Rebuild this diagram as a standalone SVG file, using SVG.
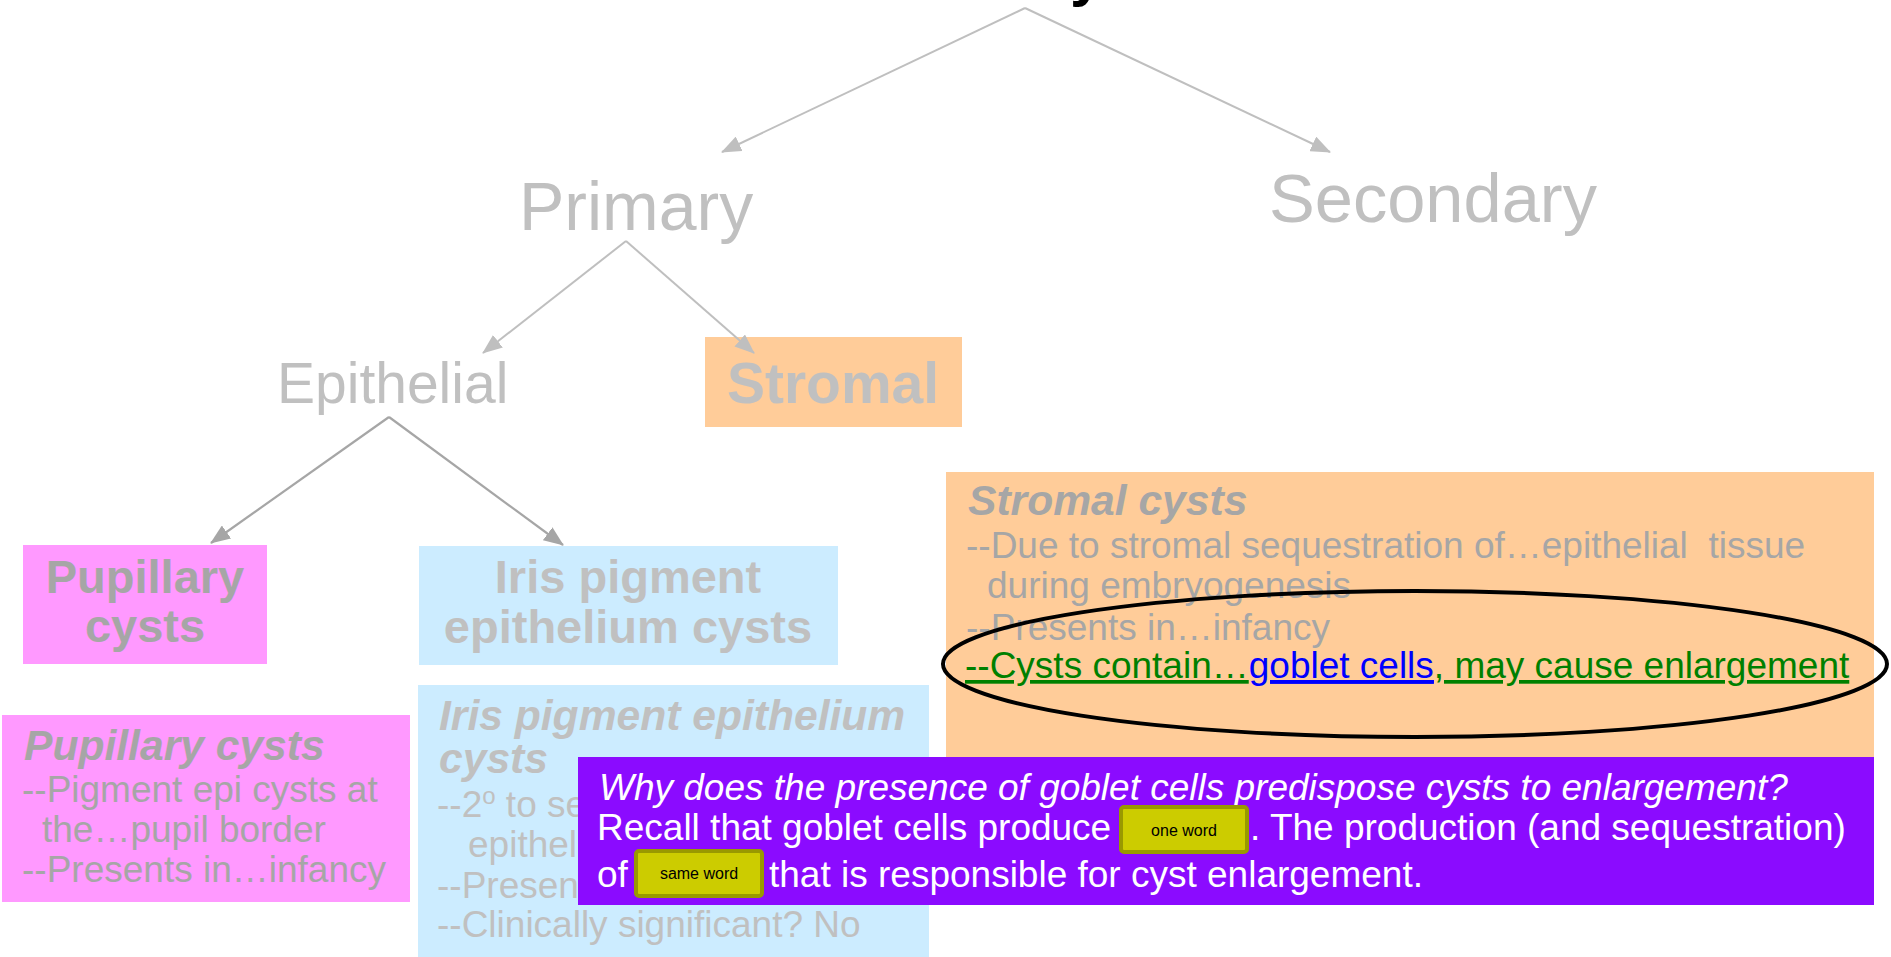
<svg xmlns="http://www.w3.org/2000/svg" width="1891" height="957" viewBox="0 0 1891 957">
<style>
text{font-family:"Liberation Sans",Arial,sans-serif}
.g{fill:#C0C0C0}
.d{fill:#A6A6A6}
.lvl{font-size:68px}
.hb{font-size:57px;font-weight:bold}
.nb{font-size:47px;font-weight:bold}
.hd{font-size:42.6px;font-weight:bold;font-style:italic}
.bd{font-size:37px}
.w{fill:#FFFFFF;font-size:37px}
.blank{fill:#CCCC00;stroke:#999900;stroke-width:4}
.bt{font-size:16px;fill:#000000}
.c1{stroke:#BFBFBF;stroke-width:2;fill:none}
.c2{stroke:#A6A6A6;stroke-width:2.2;fill:none}
</style>
<defs>
<marker id="a1" markerUnits="userSpaceOnUse" markerWidth="20" markerHeight="16" refX="19" refY="8" orient="auto"><path d="M0,0 L20,8 L0,16 z" fill="#BFBFBF"/></marker>
<marker id="a2" markerUnits="userSpaceOnUse" markerWidth="20" markerHeight="16" refX="19" refY="8" orient="auto"><path d="M0,0 L20,8 L0,16 z" fill="#A6A6A6"/></marker>
</defs>
<rect width="1891" height="957" fill="#FFFFFF"/>
<g id="title"><text x="1060" y="-5" text-anchor="middle" font-size="60" font-weight="bold" fill="#000000">Iris cysts</text></g>
<g id="primary"><text class="g lvl" x="519" y="230">Primary</text></g>
<g id="secondary"><text class="g lvl" x="1269" y="222" style="font-size:68.6px">Secondary</text></g>
<g id="epithelial"><text class="g" x="277" y="403" font-size="57">Epithelial</text></g>
<g id="stromal"><rect x="705" y="337" width="257" height="90" fill="#FFCC99"/><text class="g hb" x="833" y="403" text-anchor="middle">Stromal</text></g>
<g id="pupillary"><rect x="23" y="545" width="244" height="119" fill="#FF99FF"/><text class="d nb" x="145" y="593" text-anchor="middle">Pupillary</text><text class="d nb" x="145" y="642" text-anchor="middle">cysts</text></g>
<g id="iris"><rect x="419" y="546" width="419" height="119" fill="#CCECFF"/><text class="g nb" x="628" y="593" text-anchor="middle">Iris pigment</text><text class="g nb" x="628" y="643" text-anchor="middle">epithelium cysts</text></g>
<g id="connectors">
<line class="c1" x1="1025" y1="8" x2="722" y2="152" marker-end="url(#a1)"/>
<line class="c1" x1="1025" y1="8" x2="1330" y2="152" marker-end="url(#a1)"/>
<line class="c1" x1="626" y1="241" x2="483" y2="353" marker-end="url(#a1)"/>
<line class="c1" x1="626" y1="241" x2="754" y2="353" marker-end="url(#a1)"/>
<line class="c2" x1="389" y1="417" x2="211" y2="543" marker-end="url(#a2)"/>
<line class="c2" x1="389" y1="417" x2="563" y2="545" marker-end="url(#a2)"/>
</g>
<g id="pupillary-detail"><rect x="2" y="715" width="408" height="187" fill="#FF99FF"/>
<text class="d hd" x="24" y="760">Pupillary cysts</text>
<text class="d bd" x="22" y="802">--Pigment epi cysts at</text>
<text class="d bd" x="42" y="842">the…pupil border</text>
<text class="d bd" x="22" y="882">--Presents in…infancy</text></g>
<g id="iris-detail"><rect x="418" y="685" width="511" height="272" fill="#CCECFF"/>
<text class="g hd" x="439" y="730">Iris pigment epithelium</text>
<text class="g hd" x="439" y="773">cysts</text>
<text class="g bd" x="437" y="817">--2<tspan baseline-shift="super" font-size="24">o</tspan> to se</text>
<text class="g bd" x="468" y="857">epithel</text>
<text class="g bd" x="437" y="898">--Presen</text>
<text class="g bd" x="437" y="937">--Clinically significant? No</text></g>
<g id="stromal-detail"><rect x="946" y="472" width="928" height="330" fill="#FFCC99"/>
<text class="d hd" x="968" y="515">Stromal cysts</text>
<text class="d bd" x="966" y="558" xml:space="preserve">--Due to stromal sequestration of…epithelial  tissue</text>
<text class="d bd" x="987" y="598">during embryogenesis</text>
<text class="d bd" x="966" y="640">--Presents in…infancy</text>
<text class="bd" x="965" y="678" fill="#008000" text-decoration="underline">--Cysts contain…<tspan fill="#0000FF" text-decoration="underline">goblet cells</tspan>, may cause enlargement</text>
</g>
<g id="highlight"><ellipse cx="1415" cy="664" rx="472" ry="73" fill="none" stroke="#000000" stroke-width="4"/></g>
<g id="question"><rect x="578" y="757" width="1296" height="148" fill="#8B0BFF"/>
<text class="w" x="599" y="800" font-style="italic">Why does the presence of goblet cells predispose cysts to enlargement?</text>
<text class="w" x="597" y="840">Recall that goblet cells produce</text>
<rect class="blank" x="1121" y="807" width="126" height="45" rx="3"/>
<text class="bt" x="1184" y="836" text-anchor="middle">one word</text>
<text class="w" x="1250" y="840">. The production (and sequestration)</text>
<text class="w" x="597" y="887">of</text>
<rect class="blank" x="636" y="851" width="126" height="45" rx="3"/>
<text class="bt" x="699" y="879" text-anchor="middle">same word</text>
<text class="w" x="769" y="887">that is responsible for cyst enlargement.</text>
</g>
</svg>
